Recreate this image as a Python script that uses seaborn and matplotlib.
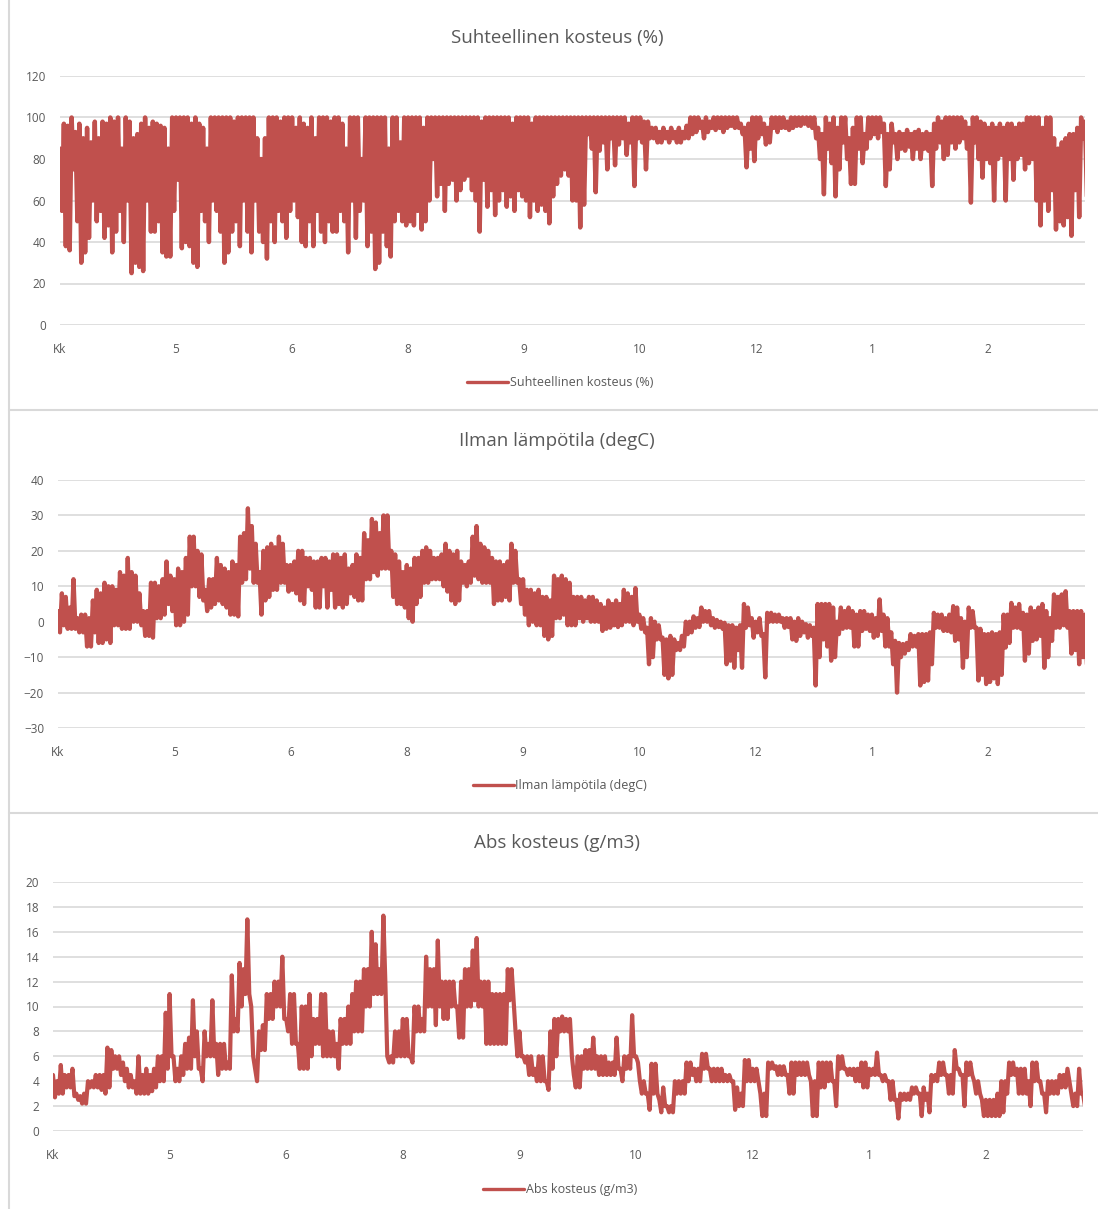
import matplotlib
matplotlib.use("Agg")
import matplotlib.pyplot as plt
from matplotlib.lines import Line2D
import numpy as np
import pandas as pd
import seaborn as sns

MONTH_LABELS = ['Kk', '5', '6', '8', '9', '10', '12', '1', '2']
LABEL_STEP = 30

# relative humidity (%)
rh_max = [85, 97, 96, 100, 93, 97, 90, 95, 88, 98, 90, 98, 97, 100, 98, 100, 85, 100, 98, 90,
          92, 97, 100, 95, 98, 97, 96, 95, 85, 100,
          100, 100, 100, 100, 97, 100, 97, 95, 85, 100, 100, 100, 100, 100, 100, 98, 100, 100, 100, 100,
          100, 90, 80, 90, 100, 100, 100, 98, 100, 100,
          100, 95, 100, 97, 95, 100, 90, 100, 100, 100, 98, 100, 100, 97, 85, 100, 100, 100, 80, 100,
          100, 100, 100, 100, 100, 85, 100, 100, 88, 100,
          100, 100, 100, 100, 95, 100, 100, 100, 100, 100, 100, 100, 100, 100, 100, 100, 100, 100, 100, 98,
          100, 100, 100, 100, 100, 100, 100, 97, 100, 100,
          100, 100, 97, 100, 100, 100, 100, 100, 100, 100, 100, 100, 100, 100, 100, 100, 100, 100, 100, 100,
          100, 100, 100, 100, 100, 100, 100, 97, 100, 100,
          100, 98, 98, 95, 95, 93, 95, 93, 95, 93, 95, 93, 96, 100, 100, 100, 98, 100, 98, 100,
          100, 100, 100, 100, 100, 100, 97, 95, 97, 100,
          100, 100, 97, 95, 100, 100, 100, 100, 98, 100, 100, 100, 100, 100, 100, 100, 95, 92, 100, 97,
          100, 95, 100, 100, 90, 95, 100, 100, 92, 100,
          100, 100, 100, 97, 92, 97, 92, 93, 92, 94, 92, 93, 94, 92, 93, 92, 97, 100, 98, 100,
          100, 100, 100, 100, 98, 95, 100, 100, 98, 97,
          95, 97, 95, 97, 95, 97, 97, 95, 97, 97, 100, 100, 100, 100, 95, 100, 100, 90, 85, 88,
          90, 92, 92, 95, 100, 98]

rh_min = [55, 38, 36, 75, 50, 30, 35, 42, 60, 50, 55, 42, 48, 35, 45, 55, 40, 60, 25, 30,
          28, 26, 60, 45, 45, 50, 35, 33, 33, 55,
          70, 37, 40, 38, 30, 28, 55, 50, 40, 60, 55, 45, 30, 35, 45, 50, 38, 60, 45, 35,
          60, 45, 40, 32, 50, 40, 55, 50, 42, 55,
          60, 52, 40, 38, 50, 38, 55, 45, 40, 50, 45, 45, 55, 50, 35, 60, 42, 55, 60, 38,
          45, 27, 30, 45, 38, 33, 50, 55, 50, 48,
          50, 48, 55, 46, 50, 60, 80, 62, 68, 55, 68, 70, 60, 65, 70, 72, 65, 60, 45, 70,
          57, 65, 53, 60, 65, 57, 62, 55, 65, 62,
          60, 52, 60, 55, 58, 55, 49, 62, 68, 72, 75, 72, 60, 60, 47, 58, 92, 85, 64, 84,
          88, 75, 90, 77, 87, 90, 82, 88, 67, 90,
          88, 75, 90, 90, 88, 88, 90, 88, 90, 88, 88, 90, 90, 92, 93, 95, 90, 93, 95, 94,
          95, 93, 95, 96, 95, 95, 92, 76, 85, 79,
          90, 92, 87, 88, 95, 93, 95, 95, 94, 95, 96, 96, 97, 96, 95, 90, 80, 63, 85, 78,
          62, 75, 88, 80, 68, 68, 85, 78, 85, 90,
          92, 90, 93, 67, 75, 88, 80, 85, 84, 86, 80, 85, 80, 85, 84, 67, 85, 88, 80, 82,
          88, 85, 88, 90, 85, 59, 88, 80, 71, 80,
          78, 60, 80, 82, 60, 80, 70, 80, 82, 75, 78, 80, 60, 48, 60, 55, 65, 46, 50, 48,
          52, 43, 65, 52, 90, 62]

# air temperature (degC)
temp_max = [3, 8, 7, 4, 12, 1, 2, 2, 1, 6, 9, 8, 11, 10, 10, 9, 14, 13, 18, 14,
            13, 8, 3, 3, 11, 11, 10, 12, 17, 13,
            12, 15, 14, 18, 24, 24, 20, 19, 9, 12, 12, 18, 16, 15, 14, 17, 16, 24, 25, 32,
            27, 22, 14, 20, 21, 22, 21, 24, 22, 16,
            16, 17, 20, 20, 18, 18, 17, 17, 18, 18, 17, 19, 19, 18, 19, 15, 16, 19, 18, 25,
            23, 29, 28, 25, 30, 30, 20, 19, 17, 14,
            16, 15, 18, 18, 20, 21, 20, 18, 18, 19, 22, 20, 19, 20, 17, 16, 17, 24, 27, 22,
            21, 20, 18, 17, 17, 16, 17, 22, 20, 12,
            12, 9, 9, 8, 9, 7, 7, 6, 13, 12, 13, 12, 11, 7, 7, 7, 6, 7, 7, 6,
            5, 4, 6, 5, 6, 5, 9, 8, 7, 9.5,
            2, 1, -1.7, 1, 0, -1, -4.5, -5, -4, -5, -6, -4, 0, 0, 1.5, 1, 4, 3, 3, 1,
            0.5, 0, -0.3, -1, -1, -1.7, -1, 5, 4, 1,
            0, 1, -3.5, 2.5, 2.5, 2, 2, 1, 1, 1, 0, 1, 0, -0.7, -1, -1.7, 5, 5, 5, 5,
            4, 0, 4, 3, 4, 3, 2, 3, 3, 2,
            2, 1, 6.3, 2, 1, -3, -5.4, -6, -6.3, -6, -3.5, -4, -3.5, -3.5, -3.5, -3, 2.5, 2, 2, 1,
            2, 4.4, 4, 1, 0, 4, 3, -1.7, -2, -3.5,
            -3.5, -3, -3.5, -3, 2, 2, 5.3, 4, 5, 2.5, 2, 4, 3, 4, 5, 3, 1, 7.7, 7, 7.7,
            8.6, 3, 3, 3, 3, 2]

temp_min = [-3, -1, -2, -2, -2, -3, -3, -7, -7, -3, -6, -6, -5, -6, -1, -1, -2, -2, -2, 0,
            0, -1, -4, -4, -4.5, 1, 1, 2, 5, 3,
            -1, -1, 0, 2, 10, 10, 7, 6, 3, 4, 5, 6, 5, 4, 2, 2, 1.5, 11, 12, 15,
            11, 11, 2, 6, 7, 9, 9, 11, 11, 8.5,
            9, 8, 6, 5, 10, 9, 4, 4, 10, 4, 9, 4, 5, 4, 5, 8, 7, 6, 6, 12,
            12, 14, 13, 15, 15, 15, 7, 5, 5, 4,
            1, 0, 5, 7, 11, 11, 12, 12, 12, 10, 8.5, 6, 5, 6, 11, 10, 11, 13, 12, 11,
            11, 11, 5, 6, 6, 7, 6, 11, 11, 5,
            2, -1, 0, -1, -1, -4, -5, -4, 1, 1, 2, -1, -1, -1, 1, 0, 1, 0, 0, 0,
            -2.6, -2, -1.7, -1, -1.5, -1, 0, 0, -1, 0,
            -2, -3, -12, -10, -5, -5, -15, -16, -15, -8, -8, -7, -3.5, -3, -1.7, -1.5, 0, 0, -1, -1.7,
            -1.5, -2, -12, -11, -13, -8, -13, -1.7, -1, -4.5,
            -3, -4, -15.7, 0, 0, 0, 0, -1.7, -1.5, -5, -5.4, -4, -3, -4.5, -4, -18, -10, -5, -7, -11,
            -10, -3.5, -2, -1.7, -1.7, -7, -7, -2.6, -2, -2.6,
            -4.5, -4, -2.6, -7, -7, -12, -20, -10, -9, -8, -7, -7, -18, -17, -16.6, -12, -1.7, -1.7, -2.6, -2.6,
            -3, -5.4, -5, -13, -10, -1.7, -1.7, -16.6, -15, -17.6,
            -17, -16, -17.6, -15, -7.3, -6, -1.7, -1.7, -2, -11, -9, -5.4, -5, -4, -13, -10, -5.4, -1.7, -1.7, -1,
            -1.7, -9, -8, -12, -10, -12]

# absolute humidity (g/m3)
abs_max = [4.5, 4, 5.3, 4.5, 4.5, 5, 3, 2.8, 3, 4, 4, 4.5, 4.5, 4.5, 6.7, 6.5, 6, 6, 5.5, 5,
           4.5, 4, 6, 4.5, 5, 4.5, 5, 6, 6, 9.5,
           11, 6, 5, 6, 7, 7.5, 10.5, 8, 5, 8, 7, 10.5, 7, 7, 7, 5.5, 12.5, 9, 13.5, 13,
           17, 10, 5, 8, 8.5, 11, 11, 12, 12, 14,
           9, 11, 11, 7, 10, 10, 11, 9, 9, 11, 11, 8, 8, 7, 9, 9, 10, 11, 12, 12,
           13, 13, 16, 15, 13, 17.3, 6, 6, 8, 8,
           9, 9, 6, 10, 10, 9, 14, 13, 13, 15.3, 12, 12, 12, 12, 10, 12, 13, 13, 14.5, 15.5,
           12, 12, 12, 11, 11, 11, 11, 13, 13, 8,
           8, 6, 6, 6, 5, 6, 6, 4, 8, 9, 9, 9.2, 9, 9, 4.5, 6, 6, 6.5, 6.5, 7.5,
           6, 6, 6, 5.5, 5.5, 7.5, 5, 6, 6, 9.3,
           6, 4, 4, 3, 5.4, 5.4, 2.5, 3.5, 2, 2, 4, 4, 4, 5.5, 5.5, 5, 5, 6.2, 6.2, 5,
           5, 5, 5, 4.5, 4.5, 4, 3.5, 3, 5.7, 5.7,
           5, 5, 3, 3, 5.5, 5.5, 5.2, 5.2, 5.2, 4.5, 5.5, 5.5, 5.5, 5.5, 5.5, 4, 4, 5.5, 5.5, 5.5,
           5.5, 4, 6, 6, 5, 5, 5, 5, 5.5, 5.5,
           5, 5, 6.3, 4.5, 4.5, 4, 4, 2.5, 3, 3, 3, 3.5, 3.5, 3, 3.5, 3, 4.5, 4.5, 5.5, 5.5,
           4.5, 4.5, 6.5, 5, 4.5, 5.5, 5.5, 4, 4, 2.5,
           2.5, 2.5, 2.5, 3, 4, 4, 5.5, 5.5, 5, 5, 5, 4, 5.5, 5.5, 4, 3, 4, 4, 4, 4.5,
           4.5, 5, 3, 3, 5, 3]

abs_min = [2.7, 3, 3, 3.5, 3.5, 2.8, 2.5, 2.2, 2.2, 3.5, 3.5, 3.5, 3.3, 3, 3.5, 5, 5, 4.5, 4, 3.5,
           3.5, 3, 3, 3, 3, 3.2, 3.5, 4, 4, 5,
           6, 4, 4, 4.5, 5, 5, 6, 5, 4, 6, 6, 6, 4.5, 5, 5, 5, 8, 8, 10, 11,
           11, 6, 4, 6.5, 6.5, 9, 9, 10, 10, 9,
           8, 7, 7, 5, 5, 5, 6, 7, 7, 6, 6, 6, 6, 5, 7, 7, 7, 8, 8, 8,
           10, 10, 11, 11, 11, 12, 5.5, 5.5, 6, 6,
           6, 6, 5.5, 8, 8, 8, 10, 10, 8.5, 10, 9, 9, 10, 10, 7.5, 7.5, 10, 10, 10.5, 10,
           10, 7, 7, 7, 7, 7, 7, 10.5, 10.5, 6,
           6, 5.5, 4.5, 4.5, 4, 4, 4, 3.3, 5, 6, 8, 8, 8, 6, 3.5, 3.5, 5, 5, 5, 5,
           4.5, 4.5, 4.5, 4.5, 4.5, 5, 4, 5, 5, 6,
           5.5, 3, 3, 1.7, 3, 3, 1.5, 2, 1.5, 1.5, 3, 3, 3, 4, 4.5, 4, 4, 5, 5, 4,
           4, 4, 4, 4, 4, 1.7, 2, 2, 4, 4,
           4, 4, 1.2, 1.2, 5, 5, 4.5, 4.5, 4.5, 3, 3, 4.5, 4.5, 4.5, 4.5, 1.2, 1.2, 3.5, 3.5, 4,
           4, 2, 5, 5, 4.5, 4.5, 4, 4, 3.5, 3.5,
           4.5, 4.5, 4.5, 4, 4, 2.5, 2.5, 1, 2.5, 2.5, 2.5, 3, 3, 1.2, 2.5, 1.5, 4, 4, 4.5, 4.5,
           3, 3, 5, 4.5, 2, 4.5, 4.5, 3, 3, 1.2,
           1.2, 1.2, 1.2, 1.2, 1.5, 3, 4.5, 4.5, 3, 3, 3, 2, 4, 4, 3, 1.5, 3, 3, 3, 3.5,
           3.5, 4, 2, 2, 3, 2]

TITLES = ['Suhteellinen kosteus (%)', 'Ilman lämpötila (degC)', 'Abs kosteus (g/m3)']
YRANGES = [(0, 120, 20), (-30, 40, 10), (0, 20, 2)]

RED = '#C0504D'
GREY_TXT = '#595959'
GRID = '#D9D9D9'

W, H = 1098, 1209

sns.set_style('white')
plt.rcParams['font.family'] = ['Open Sans', 'DejaVu Sans']

fig = plt.figure(figsize=(W / 100, H / 100), dpi=100)

# plot boxes in pixels: left, top, right, bottom
boxes = [(60, 76, 1085, 325), (58, 480, 1085, 728), (53, 882, 1083, 1131)]
title_y = [38, 441, 843]
legend_y = [383, 786, 1190]


def zigzag(hi, lo):
    # high then low for each step, half a step apart
    return pd.DataFrame({'idx': np.arange(len(hi) * 2) / 2,
                         'val': np.column_stack([hi, lo]).ravel()})


frames = [zigzag(rh_max, rh_min), zigzag(temp_max, temp_min), zigzag(abs_max, abs_min)]
widths = [3.2, 3.1, 3.0]
n_steps = len(rh_max) - 1

for i, df in enumerate(frames):
    l, t, r, b = boxes[i]
    ax = fig.add_axes([l / W, 1 - b / H, (r - l) / W, (b - t) / H])
    sns.lineplot(data=df, x='idx', y='val', ax=ax, color=RED, linewidth=widths[i],
                 label=TITLES[i])
    lo, hi, st = YRANGES[i]
    ax.set_ylim(lo, hi)
    ax.set_yticks(np.arange(lo, hi + st, st))
    ax.set_xlim(0, n_steps)
    ax.set_xticks(np.arange(len(MONTH_LABELS)) * LABEL_STEP)
    ax.set_xticklabels(MONTH_LABELS)
    ax.set_xlabel('')
    ax.set_ylabel('')
    ax.grid(axis='y', color=GRID, linewidth=1.2)
    ax.set_axisbelow(True)
    for s in ax.spines.values():
        s.set_visible(False)
    ax.tick_params(axis='both', length=0, labelsize=8.5, colors=GREY_TXT)
    ax.tick_params(axis='x', pad=13)
    ax.tick_params(axis='y', pad=10)
    fig.text(557 / W, 1 - title_y[i] / H, TITLES[i], ha='center', va='center',
             fontsize=13.5, color=GREY_TXT)
    leg = ax.legend(loc='center', bbox_to_anchor=(560 / W, 1 - legend_y[i] / H),
                    bbox_transform=fig.transFigure, frameon=False, fontsize=9,
                    handlelength=3.3, handletextpad=0.1)
    for line in leg.get_lines():
        line.set_linewidth(2.4)
    for txt in leg.get_texts():
        txt.set_color(GREY_TXT)

# chart borders
fig.add_artist(Line2D([9 / W, 9 / W], [0, 1], color=GRID, linewidth=1.5))
for yy in [410, 813]:
    fig.add_artist(Line2D([9 / W, 1], [1 - yy / H, 1 - yy / H], color=GRID, linewidth=1.5))

fig.savefig('out.png', dpi=100, facecolor='white')
